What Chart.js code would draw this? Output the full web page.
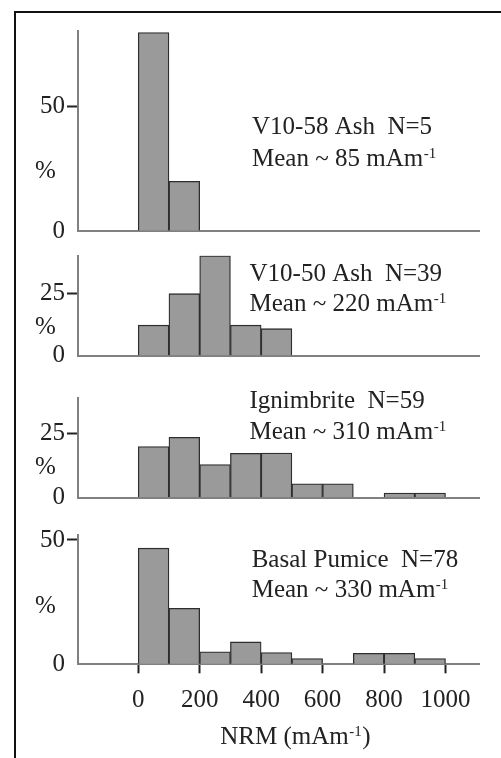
<!DOCTYPE html>
<html><head><meta charset="utf-8">
<script src="https://cdn.jsdelivr.net/npm/chart.js@4.4.1/dist/chart.umd.min.js"></script>
<style>
html,body{margin:0;padding:0;background:#fff;}
#wrap{position:relative;width:501px;height:758px;overflow:hidden;background:#fff;}
#frame{position:absolute;left:14px;top:11px;width:600px;height:800px;border-left:2px solid #111;border-top:2px solid #111;}
canvas{position:absolute;left:0;}
</style></head><body>
<div id="wrap"><div id="frame"></div>
<canvas id="c0"></canvas><canvas id="c1"></canvas><canvas id="c2"></canvas><canvas id="c3"></canvas>
</div>
<script>
// ---- data ----
const binCenters   = [50,150,250,350,450,550,650,750,850,950];   // NRM bins of 100 mAm-1
const xTickValues  = [0,200,400,600,800,1000];
const ashV1058     = [80,20,0,0,0,0,0,0,0,0];
const ashV1050     = [12.2,24.8,40,12.2,10.8,0,0,0,0,0];
const ignimbrite   = [19.8,23.4,12.8,17.2,17.3,5.3,5.3,0,1.7,1.7];
const basalPumice  = [46.7,22.5,5.0,9.0,4.7,2.3,0,4.4,4.4,2.3];
const yTicksA      = [0,50];
const yTicksB      = [0,25];
const panelNames   = ['V10-58 Ash  N=5','V10-50 Ash  N=39','Ignimbrite  N=59','Basal Pumice  N=78'];
const panelMeans   = ['Mean ~ 85 mAm','Mean ~ 220 mAm','Mean ~ 310 mAm','Mean ~ 330 mAm'];
const unitSup      = '-1';
const xTitleMain   = 'NRM (mAm';
const xTitleTail   = ')';
const yLabel       = '%';

const FONT = '"Liberation Serif","Times New Roman",serif';
const TXT = '#222';

// ---- layout (page pixels) ----
const panels = [
  {series:ashV1058,   yTicks:yTicksA, yMax:80.6, chartTop:31,    chartBottom:231,   bottomAxis:false, textX:252,   b1:133.5, b2:165.5, pctY:178},
  {series:ashV1050,   yTicks:yTicksB, yMax:40.0, chartTop:255.7, chartBottom:355.7, bottomAxis:false, textX:249.5, b1:280.7, b2:310.7, pctY:334},
  {series:ignimbrite, yTicks:yTicksB, yMax:38.6, chartTop:398.3, chartBottom:497.5, bottomAxis:false, textX:249.5, b1:408.3, b2:439,   pctY:474},
  {series:basalPumice,yTicks:yTicksA, yMax:52.0, chartTop:535,   chartBottom:664.3, bottomAxis:true,  textX:251.7, b1:567.3, b2:596.7, pctY:613}
];

function drawSup(ctx, main, sup, tail, x, y, align){
  ctx.font = '25px ' + FONT;
  const w1 = ctx.measureText(main).width;
  const w3 = tail ? ctx.measureText(tail).width : 0;
  ctx.font = '15px ' + FONT;
  const w2 = sup ? ctx.measureText(sup).width : 0;
  let x0 = align === 'center' ? x - (w1 + w2 + w3) / 2 : x;
  ctx.textAlign = 'left';
  ctx.textBaseline = 'alphabetic';
  ctx.font = '25px ' + FONT;
  ctx.fillText(main, x0, y);
  if (sup) { ctx.font = '15px ' + FONT; ctx.fillText(sup, x0 + w1 + 0.5, y - 8); }
  if (tail) { ctx.font = '25px ' + FONT; ctx.fillText(tail, x0 + w1 + w2 + 1, y); }
}

const notesPlugin = {
  id: 'notes',
  afterDraw(chart, args, opts) {
    const ctx = chart.ctx;
    const off = opts.top;
    const p = opts.panel;
    ctx.save();
    ctx.fillStyle = TXT;
    drawSup(ctx, opts.name, null, null, p.textX, p.b1 - off, 'left');
    drawSup(ctx, opts.mean, unitSup, null, p.textX, p.b2 - off, 'left');
    drawSup(ctx, yLabel, null, null, 35, p.pctY - off, 'left');
    if (p.bottomAxis) {
      const xs = chart.scales.x;
      drawSup(ctx, xTitleMain, unitSup, xTitleTail, xs.getPixelForValue(510), 744 - off, 'center');
    }
    ctx.restore();
  }
};

panels.forEach((p, i) => {
  const canvasTop = Math.floor(p.chartTop - 20);
  const xH = p.bottomAxis ? (758 - p.chartBottom) : 20;
  const height = p.bottomAxis ? (758 - canvasTop) : Math.ceil(p.chartBottom + xH - canvasTop);
  const padTop = p.chartTop - canvasTop;
  const padBottom = height - (p.chartBottom - canvasTop) - xH;
  const cv = document.getElementById('c' + i);
  cv.width = 501; cv.height = height;
  cv.style.top = canvasTop + 'px';
  cv.style.width = '501px'; cv.style.height = height + 'px';

  new Chart(cv, {
    type: 'bar',
    data: {
      datasets: [{
        data: binCenters.map((c, k) => ({x: c, y: p.series[k]})),
        backgroundColor: '#9a9a9a',
        borderColor: '#2e2e2e',
        borderWidth: 1.3,
        barPercentage: 1,
        categoryPercentage: 1
      }]
    },
    options: {
      responsive: false,
      animation: false,
      devicePixelRatio: 1,
      layout: {padding: {left: 0, right: 22, top: padTop, bottom: padBottom}},
      plugins: {
        legend: {display: false},
        tooltip: {enabled: false},
        notes: {top: canvasTop, panel: p, name: panelNames[i], mean: panelMeans[i]}
      },
      scales: {
        x: {
          type: 'linear', min: -196, max: 1109, offset: false,
          afterBuildTicks: s => { s.ticks = xTickValues.map(v => ({value: v})); },
          afterFit: s => { s.height = xH; },
          border: {display: true, color: '#808080', width: 2},
          grid: {display: p.bottomAxis, offset: false, drawOnChartArea: false, drawTicks: p.bottomAxis, tickLength: 9, tickWidth: 2, tickColor: '#222'},
          ticks: {display: p.bottomAxis, font: {family: FONT, size: 25}, color: TXT, padding: 12, maxRotation: 0, autoSkip: false,
                  callback: v => String(v)}
        },
        y: {
          min: 0, max: p.yMax,
          afterBuildTicks: s => { s.ticks = p.yTicks.map(v => ({value: v})); },
          afterFit: s => { s.width = 78; },
          border: {display: true, color: '#808080', width: 2},
          grid: {display: true, drawOnChartArea: false, drawTicks: true, tickLength: 11, tickWidth: 2,
                 tickColor: ctx => (ctx.tick && ctx.tick.value === 0) ? 'rgba(0,0,0,0)' : '#222'},
          ticks: {font: {family: FONT, size: 25}, color: TXT, padding: 2, autoSkip: false, callback: v => String(v)}
        }
      }
    },
    plugins: [notesPlugin]
  });
});
</script>
</body></html>
